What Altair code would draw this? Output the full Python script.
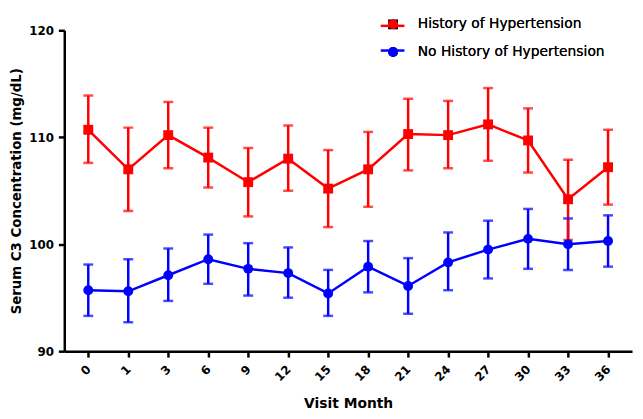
import altair as alt
import pandas as pd

months = ["0", "1", "3", "6", "9", "12", "15", "18", "21", "24", "27", "30", "33", "36"]
groups = ["History of Hypertension", "No History of Hypertension"]

htn_mean = [110.7, 107.0, 110.2, 108.1, 105.8, 108.0, 105.2, 107.0, 110.3, 110.2, 111.2, 109.7, 104.2, 107.2]
htn_hi = [113.9, 110.9, 113.3, 110.9, 109.0, 111.1, 108.8, 110.5, 113.6, 113.4, 114.6, 112.7, 107.9, 110.7]
htn_lo = [107.6, 103.1, 107.1, 105.3, 102.6, 105.0, 101.6, 103.5, 106.9, 107.1, 107.8, 106.7, 100.4, 103.7]

no_mean = [95.7, 95.6, 97.1, 98.6, 97.7, 97.3, 95.4, 97.9, 96.1, 98.3, 99.5, 100.5, 100.0, 100.3]
no_hi = [98.1, 98.6, 99.6, 100.9, 100.1, 99.7, 97.6, 100.3, 98.7, 101.1, 102.2, 103.3, 102.4, 102.7]
no_lo = [93.3, 92.7, 94.7, 96.3, 95.2, 95.0, 93.3, 95.5, 93.5, 95.7, 96.8, 97.7, 97.6, 97.9]

rows = []
for g, mean, lo, hi, order in [
    (groups[1], no_mean, no_lo, no_hi, 0),
    (groups[0], htn_mean, htn_lo, htn_hi, 1),
]:
    for i, m in enumerate(months):
        rows.append({"month": m, "idx": i, "group": g, "mean": mean[i],
                     "lo": lo[i], "hi": hi[i], "draw": order})
df = pd.DataFrame(rows)

FONT = "DejaVu Sans"
colors = ["#FF0000", "#0000FF"]
color_scale = alt.Scale(domain=groups, range=colors)

x = alt.X("month:O", sort=months,
          scale=alt.Scale(type="point", padding=0.6),
          axis=alt.Axis(title="Visit Month", labelAngle=-45, labelAlign="right",
                        labelBaseline="middle", labelPadding=10,
                        labelFont=FONT, labelFontSize=12, labelFontWeight="bold",
                        labelColor="black",
                        titleFont=FONT, titleFontSize=14, titleFontWeight="bold",
                        titleColor="black", titleY=57, titleBaseline="alphabetic",
                        domainColor="black", domainWidth=2.5, tickColor="black",
                        tickWidth=2.5, tickSize=6, grid=False))
y_axis = alt.Axis(title="Serum  C3 Concentration (mg/dL)", values=[90, 100, 110, 120],
                  labelFont=FONT, labelFontSize=12, labelFontWeight="bold",
                  labelColor="black", labelPadding=5,
                  titleFont=FONT, titleFontSize=13.5, titleFontWeight="bold",
                  titleColor="black", titleX=-44, titleBaseline="alphabetic",
                  domainColor="black", domainWidth=2.5, tickColor="black",
                  tickWidth=2.5, tickSize=6, grid=False)
yscale = alt.Scale(domain=[90, 120], nice=False, zero=False)

base = alt.Chart(df)

rules = base.mark_rule(strokeWidth=2.5).encode(
    x=x,
    y=alt.Y("lo:Q", scale=yscale, axis=y_axis),
    y2="hi:Q",
    color=alt.Color("group:N", scale=color_scale, legend=None),
    order=alt.Order("draw:Q"),
)
caps_lo = base.mark_tick(thickness=2.5, size=10).encode(
    x=x, y=alt.Y("lo:Q", scale=yscale),
    color=alt.Color("group:N", scale=color_scale, legend=None),
    order=alt.Order("draw:Q"),
)
caps_hi = base.mark_tick(thickness=2.5, size=10).encode(
    x=x, y=alt.Y("hi:Q", scale=yscale),
    color=alt.Color("group:N", scale=color_scale, legend=None),
    order=alt.Order("draw:Q"),
)

line_legend = alt.Legend(orient="none", legendX=319, legendY=-18, title=None,
                         symbolType="stroke", symbolStrokeWidth=2.5, symbolSize=576,
                         labelExpr="''", labelFontSize=14, padding=0, rowPadding=4)
lines_no = base.transform_filter(alt.datum.group == groups[1]).mark_line(strokeWidth=2.5).encode(
    x=x, y=alt.Y("mean:Q", scale=yscale),
    color=alt.Color("group:N", scale=color_scale, legend=line_legend),
    order="idx:Q",
)
lines_htn = base.transform_filter(alt.datum.group == groups[0]).mark_line(strokeWidth=2.5).encode(
    x=x, y=alt.Y("mean:Q", scale=yscale),
    color=alt.Color("group:N", scale=color_scale, legend=None),
    order="idx:Q",
)

pt_legend = alt.Legend(orient="none", legendX=326, legendY=-13, title=None,
                       symbolSize=100, labelFont=FONT, labelFontSize=14,
                       labelColor="black", labelOffset=18, labelLimit=0,
                       padding=0, rowPadding=14, symbolStrokeWidth=0)
points = base.mark_point(filled=True, size=100, opacity=1).encode(
    x=x, y=alt.Y("mean:Q", scale=yscale),
    color=alt.Color("group:N", scale=color_scale, legend=pt_legend),
    shape=alt.Shape("group:N", scale=alt.Scale(domain=groups, range=["square", "circle"]),
                    legend=pt_legend),
    order=alt.Order("draw:Q"),
)

chart = alt.layer(rules, caps_lo, caps_hi, lines_no, lines_htn, points).resolve_legend(
    color="independent"
).properties(
    width=575, height=325,
    autosize=alt.AutoSizeParams(type="none"),
    padding={"left": 57, "top": 20, "right": 3, "bottom": 58},
    background="white",
).configure_view(stroke=None)

chart.save("out.html", embed_options={"renderer": "svg", "actions": False})
